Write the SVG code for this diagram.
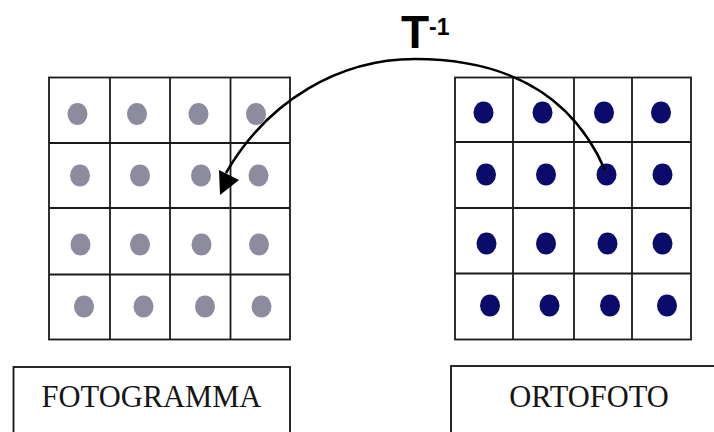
<svg xmlns="http://www.w3.org/2000/svg" width="714" height="432" viewBox="0 0 714 432">
  <style>
    .grid { fill: #ffffff; stroke: #1a1a1a; stroke-width: 1.8; }
    .gline { stroke: #1a1a1a; stroke-width: 1.8; }
    .pg { fill: #8c8c9e; }
    .po { fill: #0b0b6b; }
    .box { fill: #ffffff; stroke: #111111; stroke-width: 1.8; }
    .lbl { font-family: "Liberation Serif", "Times New Roman", serif; font-size: 30.5px; fill: #151515; text-anchor: middle; }
    .tt { font-family: "Liberation Sans", Arial, sans-serif; font-weight: bold; fill: #000000; }
  </style>
  <rect width="714" height="432" fill="#ffffff"/>

  <!-- image-space raster -->
  <g id="fotogramma-grid">
    <rect class="grid" x="49" y="77.5" width="241" height="262"/>
    <line class="gline" x1="110" y1="77.5" x2="110" y2="339.5"/>
    <line class="gline" x1="170" y1="77.5" x2="170" y2="339.5"/>
    <line class="gline" x1="230.5" y1="77.5" x2="230.5" y2="339.5"/>
    <line class="gline" x1="49" y1="143" x2="290" y2="143"/>
    <line class="gline" x1="49" y1="208" x2="290" y2="208"/>
    <line class="gline" x1="49" y1="274.5" x2="290" y2="274.5"/>
    <ellipse class="pg" cx="77.5" cy="114" rx="10" ry="11"/>
    <ellipse class="pg" cx="137" cy="114" rx="10" ry="11"/>
    <ellipse class="pg" cx="198.5" cy="114" rx="10" ry="11"/>
    <ellipse class="pg" cx="256" cy="114" rx="10" ry="11"/>
    <ellipse class="pg" cx="80" cy="175.5" rx="10" ry="11"/>
    <ellipse class="pg" cx="140" cy="175.5" rx="10" ry="11"/>
    <ellipse class="pg" cx="201" cy="175.5" rx="10" ry="11"/>
    <ellipse class="pg" cx="258.5" cy="175.5" rx="10" ry="11"/>
    <ellipse class="pg" cx="80.5" cy="244.5" rx="10" ry="11"/>
    <ellipse class="pg" cx="140" cy="244.5" rx="10" ry="11"/>
    <ellipse class="pg" cx="201.5" cy="244.5" rx="10" ry="11"/>
    <ellipse class="pg" cx="259" cy="244.5" rx="10" ry="11"/>
    <ellipse class="pg" cx="84" cy="306.5" rx="10" ry="11"/>
    <ellipse class="pg" cx="143.5" cy="306.5" rx="10" ry="11"/>
    <ellipse class="pg" cx="205" cy="306.5" rx="10" ry="11"/>
    <ellipse class="pg" cx="261.5" cy="306.5" rx="10" ry="11"/>
  </g>

  <!-- orthophoto raster -->
  <g id="ortofoto-grid">
    <rect class="grid" x="455" y="77.5" width="236" height="262"/>
    <line class="gline" x1="513" y1="77.5" x2="513" y2="339.5"/>
    <line class="gline" x1="574" y1="77.5" x2="574" y2="339.5"/>
    <line class="gline" x1="632" y1="77.5" x2="632" y2="339.5"/>
    <line class="gline" x1="455" y1="142" x2="691" y2="142"/>
    <line class="gline" x1="455" y1="208" x2="691" y2="208"/>
    <line class="gline" x1="455" y1="273.5" x2="691" y2="273.5"/>
    <ellipse class="po" cx="483.5" cy="112.5" rx="10" ry="11"/>
    <ellipse class="po" cx="542.5" cy="112.5" rx="10" ry="11"/>
    <ellipse class="po" cx="604" cy="112.5" rx="10" ry="11"/>
    <ellipse class="po" cx="661" cy="112.5" rx="10" ry="11"/>
    <ellipse class="po" cx="486" cy="174.5" rx="10" ry="11"/>
    <ellipse class="po" cx="546" cy="174.5" rx="10" ry="11"/>
    <ellipse class="po" cx="606.5" cy="174.5" rx="10" ry="11"/>
    <ellipse class="po" cx="662.5" cy="174.5" rx="10" ry="11"/>
    <ellipse class="po" cx="486.5" cy="243.5" rx="10" ry="11"/>
    <ellipse class="po" cx="546" cy="243.5" rx="10" ry="11"/>
    <ellipse class="po" cx="607.5" cy="243.5" rx="10" ry="11"/>
    <ellipse class="po" cx="662.5" cy="243.5" rx="10" ry="11"/>
    <ellipse class="po" cx="490" cy="305.5" rx="10" ry="11"/>
    <ellipse class="po" cx="549.5" cy="305.5" rx="10" ry="11"/>
    <ellipse class="po" cx="610" cy="305.5" rx="10" ry="11"/>
    <ellipse class="po" cx="667" cy="305.5" rx="10" ry="11"/>
  </g>

  <!-- inverse transformation arrow -->
  <g id="connectors">
    <path d="M605,170 C570,90 500,59 415,59 C340,59 268,100 226,173" fill="none" stroke="#000000" stroke-width="2.6"/>
    <polygon points="219,170 239,180 220,195" fill="#000000"/>
  </g>

  <g id="transform-label">
    <text class="tt" x="401" y="48" font-size="46">T</text>
    <text class="tt" x="429" y="35" font-size="23">-1</text>
  </g>

  <g id="fotogramma-label">
    <rect class="box" x="13.5" y="367" width="276.5" height="80"/>
    <text class="lbl" x="151.5" y="407">FOTOGRAMMA</text>
  </g>

  <g id="ortofoto-label">
    <rect class="box" x="451" y="366" width="276" height="80"/>
    <text class="lbl" x="589" y="407">ORTOFOTO</text>
  </g>
</svg>
